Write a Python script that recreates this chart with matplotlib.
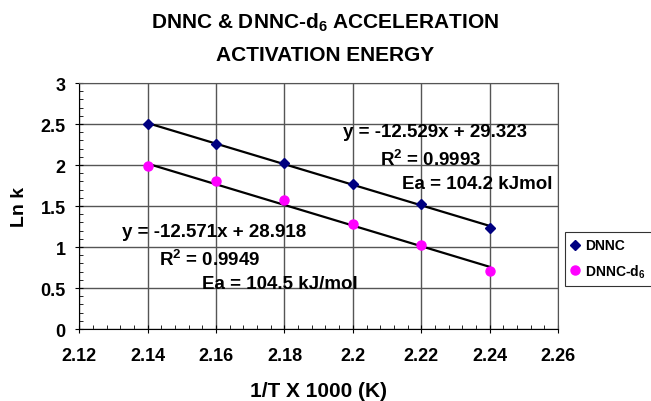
import matplotlib.pyplot as plt
import numpy as np

plt.rcParams['font.family'] = ['Liberation Sans', 'DejaVu Sans']
plt.rcParams['font.weight'] = 'bold'
plt.rcParams['mathtext.fontset'] = 'custom'
plt.rcParams['mathtext.bf'] = 'Liberation Sans:bold'
plt.rcParams['mathtext.rm'] = 'Liberation Sans:bold'
plt.rcParams['mathtext.default'] = 'bf'

# Data
inv_T = [2.14, 2.16, 2.18, 2.20, 2.22, 2.24]
ln_k_dnnc = [2.50, 2.26, 2.02, 1.77, 1.52, 1.23]
ln_k_d6 = [1.99, 1.80, 1.57, 1.28, 1.03, 0.71]

# Trendline coefficients (slope, intercept) as shown on the chart
fit_dnnc = (-12.529, 29.323)
fit_d6 = (-12.571, 28.918)

fig = plt.figure(figsize=(6.51, 4.02), dpi=100)
ax = fig.add_axes([0.122, 0.179, 0.735, 0.612])

x = np.array(inv_T)
ax.plot(x, fit_dnnc[0] * x + fit_dnnc[1], color='black', lw=1.6, zorder=2)
ax.plot(x, fit_d6[0] * x + fit_d6[1], color='black', lw=1.6, zorder=2)
ax.plot(inv_T, ln_k_dnnc, 'D', color='#000080', ms=5.5, label='DNNC', zorder=3)
ax.plot(inv_T, ln_k_d6, 'o', color='#ff00ff', ms=6.5, label='DNNC-d$_6$', zorder=3)

ax.set_xlim(2.12, 2.26)
ax.set_ylim(0, 3)
ax.set_xticks(np.arange(2.12, 2.2601, 0.02))
ax.set_xticklabels(['2.12', '2.14', '2.16', '2.18', '2.2', '2.22', '2.24', '2.26'])
ax.set_yticks(np.arange(0, 3.01, 0.5))
ax.set_yticklabels(['0', '0.5', '1', '1.5', '2', '2.5', '3'])
ax.set_xticks(np.arange(2.12, 2.26, 0.004), minor=True)
ax.set_yticks(np.arange(0, 3, 0.1), minor=True)
ax.tick_params(which='major', direction='inout', length=6, labelsize=13)
ax.tick_params(axis='x', which='major', pad=10)
ax.tick_params(axis='y', which='major', pad=7)
ax.tick_params(which='minor', direction='in', length=3)
ax.grid(True, which='major', color='#555555', lw=1)
for s in ['top', 'right']:
    ax.spines[s].set_color('#555555')

ax.set_xlabel('1/T X 1000 (K)', fontsize=15, fontweight='bold', labelpad=12)
ax.set_ylabel('Ln k', fontsize=14, fontweight='bold', labelpad=9)

fig.text(0.499, 0.943, 'DNNC & DNNC-d$_6$ ACCELERATION', ha='center', va='center',
         fontsize=15, fontweight='bold')
fig.text(0.500, 0.863, 'ACTIVATION ENERGY', ha='center', va='center',
         fontsize=15, fontweight='bold')

ax.text(2.1972, 2.41, 'y = -12.529x + 29.323', ha='left', va='center', fontsize=13.5)
ax.text(2.2080, 2.08, 'R$^2$ = 0.9993', ha='left', va='center', fontsize=13.5)
ax.text(2.2144, 1.775, 'Ea = 104.2 kJmol', ha='left', va='center', fontsize=13.5)
ax.text(2.1326, 1.19, 'y = -12.571x + 28.918', ha='left', va='center', fontsize=13.5)
ax.text(2.1434, 0.86, 'R$^2$ = 0.9949', ha='left', va='center', fontsize=13.5)
ax.text(2.1560, 0.55, 'Ea = 104.5 kJ/mol', ha='left', va='center', fontsize=13.5)

leg = fig.legend(loc='upper left', bbox_to_anchor=(0.868, 0.42), borderaxespad=0,
                 fontsize=10, frameon=True, fancybox=False, handlelength=0.5,
                 handletextpad=0.5, borderpad=0.45, labelspacing=0.7)
leg.get_frame().set_edgecolor('black')
leg.get_frame().set_linewidth(0.8)

fig.savefig('out.png', dpi=100)
